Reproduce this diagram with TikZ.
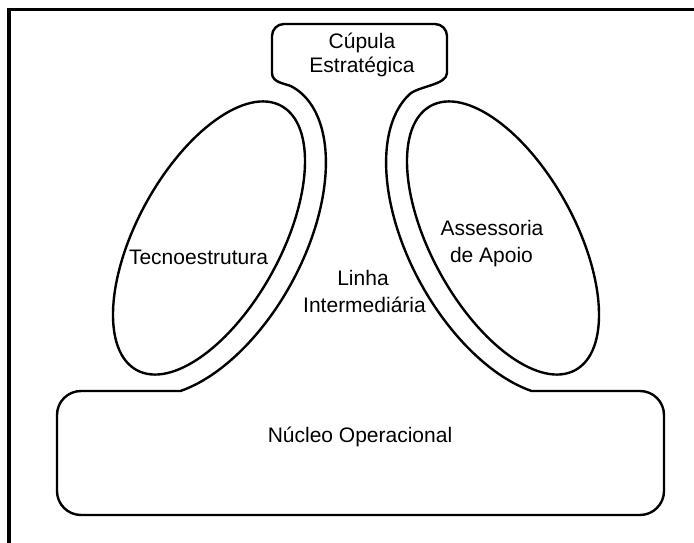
\documentclass[tikz,border=0pt]{standalone}
\usepackage{fontspec}
\setmainfont{Liberation Sans}
\begin{document}
\begin{tikzpicture}[x=1pt,y=1pt,
  outl/.style={line width=2.4pt, line join=round},
  frm/.style={line width=3.3pt},
  lbl/.style={inner sep=0pt, anchor=base, font=\fontsize{21}{25}\selectfont}]
\useasboundingbox (0,0) rectangle (694,543);
% frame
\draw[frm] (694,533.5) -- (9,533.5) -- (9,0);
% outer outline: nucleo + linha intermediaria + cupula
\draw[outl]
  (180.5,152) -- (81,152) arc[start angle=90,end angle=180,radius=24]
  -- (57,52) arc[start angle=180,end angle=270,radius=24]
  -- (640,28) arc[start angle=270,end angle=360,radius=24]
  -- (664,128) arc[start angle=0,end angle=90,radius=24]
  -- (531.5,152)
  -- plot[domain=-149:-8, samples=80, variable=\t]
     ({712-(209+82.88*cos(\t)-82.45*sin(\t))}, {305+151.39*cos(\t)+45.14*sin(\t)})
  .. controls (418.2,456.9) and (447,458) .. (447,470)
  -- (447,507) arc[start angle=0,end angle=90,radius=12]
  -- (284,519) arc[start angle=90,end angle=180,radius=12]
  -- (272,470) .. controls (272,460) and (285,459.8) .. (291.9,456.4)
  -- plot[domain=0:149, samples=80, variable=\t]
     ({209+82.88*cos(-\t)-82.45*sin(-\t)}, {305+151.39*cos(-\t)+45.14*sin(-\t)})
  -- cycle;
% inner ellipses
\draw[outl] (209,305) ellipse[x radius=150.6, y radius=72, rotate=61.3];
\draw[outl] (503,305) ellipse[x radius=150.6, y radius=72, rotate=-61.3];
% labels
\node[lbl] (cup1) at (362,494) {Cúpula};
\node[lbl] (cup2) at (362,470) {Estratégica};
\node[lbl] (tec) at (198.5,278) {Tecnoestrutura};
\node[lbl] (lin1) at (363,257) {Linha};
\node[lbl] (lin2) at (364.5,230) {Intermediária};
\node[lbl] (ass1) at (492,307) {Assessoria};
\node[lbl] (ass2) at (491.5,280) {de Apoio};
\node[lbl] (nuc) at (360,100) {Núcleo Operacional};
\end{tikzpicture}
\end{document}
